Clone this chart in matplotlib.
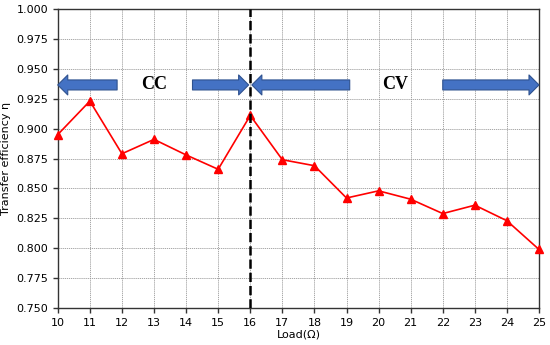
import numpy as np
from matplotlib import pyplot as plt

# load resistance (ohm) and measured transfer efficiency
loads = [10, 11, 12, 13, 14, 15, 16, 17, 18, 19, 20, 21, 22, 23, 24, 25]
efficiency = [0.895, 0.923, 0.879, 0.891, 0.878, 0.866, 0.911, 0.874,
              0.869, 0.842, 0.848, 0.841, 0.829, 0.836, 0.823, 0.799]
switch_load = 16
y_ticks = np.arange(0.75, 1.0001, 0.025)


def draw_arrow(ax, x_tail, x_head, y):
    ax.annotate("", xy=(x_head, y), xytext=(x_tail, y),
                arrowprops=dict(arrowstyle="simple,head_length=0.45,head_width=0.9,tail_width=0.45",
                                facecolor="#4472C4", edgecolor="#2F528F",
                                linewidth=0.8, shrinkA=0, shrinkB=0,
                                mutation_scale=16))


fig = plt.figure(figsize=(5.5, 3.45), dpi=100)
ax = fig.add_axes([0.105, 0.107, 0.875, 0.867])

ax.plot(loads, efficiency, color="red", marker="^", markersize=6, linewidth=1.2,
        clip_on=False, zorder=3)
ax.axvline(switch_load, color="black", linestyle="--", linewidth=1.8, zorder=4)

arrow_y = 0.9365
draw_arrow(ax, 11.85, 10.0, arrow_y)
draw_arrow(ax, 14.2, 15.95, arrow_y)
draw_arrow(ax, 19.1, 16.05, arrow_y)
draw_arrow(ax, 22.0, 25.0, arrow_y)
ax.text(13.0, arrow_y, "CC", family="Liberation Serif", fontweight="bold",
        fontsize=13, ha="center", va="center")
ax.text(20.5, arrow_y, "CV", family="Liberation Serif", fontweight="bold",
        fontsize=13, ha="center", va="center")

ax.set_xlim(10, 25)
ax.set_ylim(0.75, 1.0)
ax.set_xticks(loads)
ax.set_yticks(y_ticks)
ax.yaxis.set_major_formatter(plt.FormatStrFormatter("%.3f"))
ax.tick_params(labelsize=8, width=1, color="#333333")
for spine in ax.spines.values():
    spine.set_linewidth(1.0)
    spine.set_color("#333333")
ax.grid(True, color="#999999", linewidth=0.6, linestyle=(0, (1.5, 1)))
ax.set_axisbelow(True)
ax.set_xlabel("Load(Ω)", fontsize=8, labelpad=1)
ax.set_ylabel("Transfer efficiency η", fontsize=8)

fig.savefig("out.png", dpi=100)
